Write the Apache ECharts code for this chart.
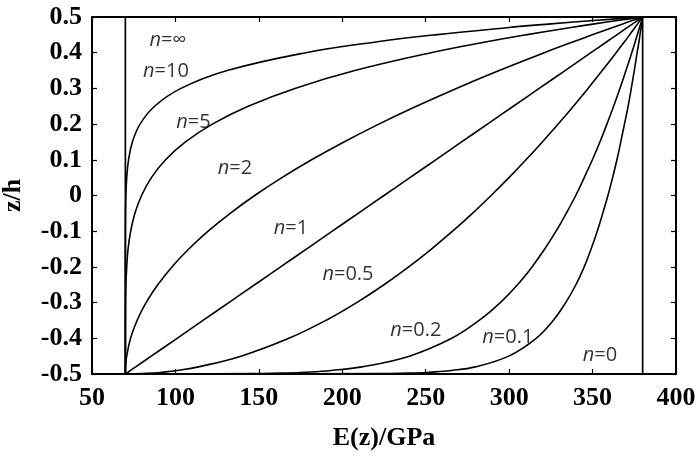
<!DOCTYPE html>
<html lang="en" style="height: 100%">
<head>
  <meta charset="utf-8">
</head>
<body style="height: 100%; margin: 0; background: #fff">
  <div id="container" style="width: 698px; height: 456px"></div>

  <script type="text/javascript" src="https://fastly.jsdelivr.net/npm/echarts@6.0.0/dist/echarts.min.js"></script>
  <script type="text/javascript">
    // z/h sample points shared by every curve
    var zh = [-0.5, -0.499, -0.497, -0.495, -0.49, -0.48, -0.45, -0.4, -0.35, -0.3,
      -0.25, -0.2, -0.15, -0.1, -0.05, 0, 0.05, 0.1, 0.15, 0.2,
      0.25, 0.3, 0.35, 0.4, 0.43, 0.45, 0.47, 0.48, 0.49, 0.5];

    // E(z) in GPa for each power-law index n
    var eInf = [70, 70, 70, 70, 70, 70, 70, 70, 70, 70, 70, 70, 70, 70, 70,
      70, 70, 70, 70, 70, 70, 70, 70, 70, 70, 70, 70, 70, 70, 70];
    var e10 = [70, 70, 70, 70, 70, 70, 70, 70, 70, 70, 70, 70, 70, 70.03, 70.1,
      70.3, 70.8, 71.9, 74.2, 78.8, 87.5, 103.3, 131, 178.1, 220, 255.6, 298.6, 323.3, 350.4, 380];
    var e5 = [70, 70, 70, 70, 70, 70, 70, 70, 70.02, 70.1, 70.3, 70.8, 71.6, 73.2, 75.7,
      79.7, 85.6, 94.1, 106, 122.1, 143.6, 171.6, 207.5, 253.1, 285.7, 309.9, 336.2, 350.2, 364.8, 380];
    var e2 = [70, 70, 70, 70, 70.03, 70.1, 70.8, 73.1, 77, 82.4, 89.4, 97.9, 108, 119.6, 132.8,
      147.5, 163.8, 181.6, 201, 221.9, 244.4, 268.4, 294, 321.1, 338.1, 349.8, 361.7, 367.7, 373.8, 380];
    var e1 = [70, 70.3, 70.9, 71.6, 73.1, 76.2, 85.5, 101, 116.5, 132, 147.5, 163, 178.5, 194, 209.5,
      225, 240.5, 256, 271.5, 287, 302.5, 318, 333.5, 349, 358.3, 364.5, 370.7, 373.8, 376.9, 380];
    var e05 = [70, 79.8, 87, 91.9, 101, 113.8, 139.3, 168, 190.1, 208.6, 225, 239.8, 253.4, 266.1, 278,
      289.2, 299.9, 310.1, 319.9, 329.4, 338.5, 347.3, 355.8, 364.1, 369, 372.2, 375.3, 376.9, 378.4, 380];
    var e02 = [70, 147.8, 166.9, 177.6, 193.4, 211.7, 240.2, 265.6, 282, 294.7, 305, 313.7, 321.3, 328.1, 334.2,
      339.9, 345, 349.9, 354.4, 358.6, 362.6, 366.4, 370, 373.5, 375.5, 376.8, 378.1, 378.8, 379.4, 380];
    var e01 = [70, 225.3, 243.4, 252.5, 265.6, 279.7, 299.7, 316.2, 326.4, 333.9, 340, 345, 349.1, 352.8, 356.1,
      359.2, 362, 364.6, 366.9, 369.1, 371.3, 373.2, 375, 376.7, 377.8, 378.4, 379.1, 379.4, 379.7, 380];
    var e0 = [380, 380, 380, 380, 380, 380, 380, 380, 380, 380, 380, 380, 380, 380, 380,
      380, 380, 380, 380, 380, 380, 380, 380, 380, 380, 380, 380, 380, 380, 380];

    var curveNames = ['∞', '10', '5', '2', '1', '0.5', '0.2', '0.1', '0'];
    var curves = [eInf, e10, e5, e2, e1, e05, e02, e01, e0];

    var dom = document.getElementById('container');
    var myChart = echarts.init(dom, null, { renderer: 'canvas' });

    var serif = '"Liberation Serif", "Times New Roman", serif';
    var sans = '"Open Sans", "Noto Sans", sans-serif';

    // where each "n=" note sits, in data units
    var notes = [
      ['∞', 95.5, 0.436], ['10', 94.3, 0.349], ['5', 110.8, 0.206], ['2', 135.7, 0.077],
      ['1', 169.2, -0.091], ['0.5', 203.4, -0.221], ['0.2', 244.1, -0.377],
      ['0.1', 299.2, -0.396], ['0', 354.4, -0.447]
    ];

    var series = curves.map(function (arr, i) {
      return {
        name: 'n=' + curveNames[i],
        type: 'line',
        xAxisIndex: 0,
        yAxisIndex: 0,
        showSymbol: false,
        symbol: 'none',
        smooth: 0.4,
        silent: true,
        lineStyle: { color: '#000', width: (i === 0 || i === 8) ? 1.7 : 1.6, join: 'round' },
        data: arr.map(function (e, k) { return [e, zh[k]]; })
      };
    });

    series.push({
      type: 'scatter',
      symbolSize: 0,
      silent: true,
      label: {
        show: true,
        position: 'inside',
        color: '#000',
        formatter: function (p) { return '{i|n}{r|=' + p.value[2] + '}'; },
        rich: {
          i: { fontFamily: sans, fontSize: 20, fontStyle: 'italic', color: '#000' },
          r: { fontFamily: sans, fontSize: 20, color: '#000' }
        }
      },
      data: notes.map(function (n) { return [n[1], n[2], n[0]]; })
    });

    var axisLine = { show: true, onZero: false, lineStyle: { color: '#000', width: 2 } };
    var tick = { show: true, inside: true, length: 5, lineStyle: { color: '#000', width: 1.2 } };

    var option = {
      animation: false,
      backgroundColor: '#fff',
      grid: { left: 92, right: 22, top: 17, bottom: 82, containLabel: false, outerBoundsMode: 'none' },
      xAxis: [{
        type: 'value', min: 50, max: 400, interval: 50, position: 'bottom',
        name: 'E(z)/GPa', nameLocation: 'middle', nameGap: 51,
        nameTextStyle: { fontFamily: serif, fontSize: 26, fontWeight: 'bold', color: '#000' },
        axisLine: axisLine, axisTick: tick, splitLine: { show: false },
        axisLabel: { fontFamily: serif, fontSize: 26, fontWeight: 'bold', color: '#000', margin: 11 }
      }, {
        type: 'value', min: 50, max: 400, interval: 50, position: 'top',
        axisLine: axisLine, axisTick: tick, splitLine: { show: false },
        axisLabel: { show: false }
      }],
      yAxis: [{
        type: 'value', min: -0.5, max: 0.5, interval: 0.1, position: 'left',
        name: 'z/h', nameLocation: 'middle', nameGap: 66, nameRotate: 90,
        nameTextStyle: { fontFamily: serif, fontSize: 26, fontWeight: 'bold', color: '#000' },
        axisLine: axisLine, axisTick: tick, splitLine: { show: false },
        axisLabel: {
          fontFamily: serif, fontSize: 26, fontWeight: 'bold', color: '#000', margin: 10,
          formatter: function (v) { return String(Math.round(v * 10) / 10); }
        }
      }, {
        type: 'value', min: -0.5, max: 0.5, interval: 0.1, position: 'right',
        axisLine: axisLine, axisTick: tick, splitLine: { show: false },
        axisLabel: { show: false }
      }],
      series: series
    };

    myChart.setOption(option);
    window.addEventListener('resize', myChart.resize);
  </script>
</body>
</html>
